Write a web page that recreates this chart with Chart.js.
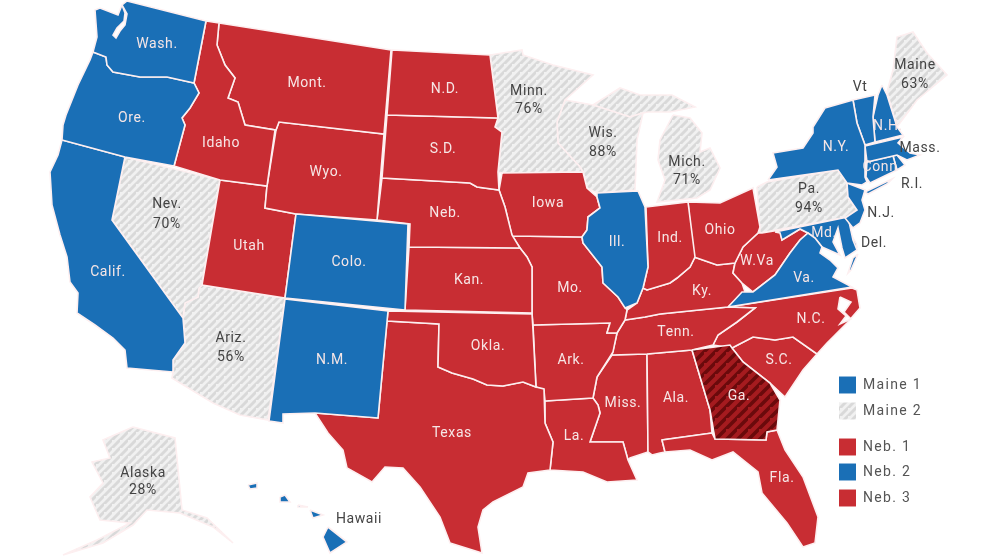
<!DOCTYPE html>
<html>
<head>
<meta charset="utf-8">
<title>Mapa</title>
<script src="https://cdn.jsdelivr.net/npm/chart.js@4"></script>
<style>
  body { margin: 0; background: #fff; }
  canvas { display: block; }
</style>
</head>
<body>
<canvas id="myChart" width="992" height="558"></canvas>
<script>
// state outlines in map units
const wash = [[127,1],[206,21],[194,83],[167,77],[140,77],[113,72],[107,65],[106,57],[93,52],[97,37],[95,10],[100,8],[118,15],[122,5]];
const ore = [[93,52],[106,57],[107,65],[113,72],[140,77],[167,77],[194,83],[199,93],[190,108],[182,118],[185,125],[174,166],[125,157],[62,140],[63,125],[66,115],[78,85],[90,60]];
const calif = [[62,140],[125,157],[112,220],[183,318],[185,343],[173,360],[173,372],[127,368],[125,350],[113,338],[95,325],[77,313],[78,293],[70,282],[67,257],[60,235],[52,205],[50,172],[58,155]];
const nev = [[125,157],[220,180],[202,285],[199,288],[198,297],[185,303],[183,318],[112,220]];
const idaho = [[206,21],[219,23],[217,45],[225,65],[235,78],[228,98],[238,102],[245,125],[275,130],[267,186],[220,180],[174,166],[185,125],[182,118],[190,108],[199,93],[194,83]];
const mont = [[219,23],[391,50],[384,134],[279,122],[276,130],[245,125],[238,102],[228,98],[235,78],[225,65],[217,45]];
const wyo = [[279,122],[384,134],[377,220],[296,214],[265,208],[267,186],[276,130]];
const utah = [[220,180],[267,186],[265,208],[296,214],[285,298],[202,285]];
const ariz = [[199,288],[202,285],[285,298],[268,420],[240,415],[213,403],[172,378],[173,372],[173,360],[185,343],[183,318],[185,303],[198,297]];
const colo = [[296,214],[408,224],[405,310],[285,298]];
const nm = [[285,299],[388,311],[378,418],[315,413],[283,414],[283,423],[269,421]];
const nd = [[392,50],[490,55],[498,118],[387,115]];
const sd = [[387,115],[498,118],[495,127],[502,132],[498,172],[499,190],[477,187],[470,183],[382,178]];
const neb = [[382,178],[470,183],[477,187],[499,190],[505,207],[512,235],[520,248],[409,247],[410,224],[377,220]];
const kan = [[409,247],[520,248],[527,257],[532,267],[532,313],[405,310]];
const okla = [[388,311],[532,314],[533,330],[536,387],[523,382],[503,386],[487,385],[473,379],[452,373],[438,367],[439,324],[387,321]];
const texas = [[387,321],[439,324],[438,367],[452,373],[473,379],[487,385],[503,386],[523,382],[536,387],[544,389],[545,423],[553,442],[550,470],[528,473],[523,487],[493,502],[483,510],[478,527],[482,553],[450,543],[440,517],[420,487],[403,468],[385,467],[372,482],[347,468],[343,450],[328,433],[315,413],[378,418]];
const minn = [[490,55],[522,50],[523,55],[553,65],[593,75],[565,100],[557,122],[558,143],[580,167],[583,172],[502,173],[498,172],[502,132],[495,127],[498,118]];
const iowa = [[502,173],[583,172],[587,188],[597,197],[600,208],[588,217],[587,230],[582,237],[512,236],[505,207],[499,190]];
const mo = [[512,236],[582,237],[583,243],[602,267],[603,283],[618,297],[627,310],[625,320],[617,333],[607,333],[610,323],[533,325],[532,313],[532,267],[527,257],[520,248]];
const ark = [[533,325],[610,323],[607,333],[617,333],[613,352],[597,377],[593,398],[545,401],[544,390],[536,387]];
const la = [[545,401],[593,398],[598,405],[600,413],[590,442],[623,442],[628,460],[637,480],[607,482],[583,472],[550,470],[553,442],[545,423]];
const wis = [[565,100],[593,105],[630,117],[643,113],[637,140],[635,190],[597,193],[587,188],[583,172],[580,167],[558,143],[557,122]];
const michUp = [[593,105],[620,88],[640,95],[672,95],[695,107],[670,112],[648,112],[643,113],[630,117]];
const michLow = [[673,115],[690,118],[702,133],[700,152],[710,148],[720,168],[710,190],[697,198],[657,202],[665,180],[658,160],[660,140]];
const ill = [[597,193],[638,191],[645,207],[648,267],[643,288],[637,303],[625,308],[618,297],[603,283],[602,267],[583,243],[582,237],[587,230],[588,217],[600,208],[597,197]];
const ind = [[646,207],[688,202],[695,257],[690,267],[677,278],[670,283],[647,290],[643,288],[648,267]];
const ohio = [[688,202],[720,203],[753,188],[760,227],[758,233],[743,247],[735,263],[717,265],[697,258],[693,257]];
const wva = [[758,233],[762,233],[780,230],[782,240],[800,229],[808,233],[800,240],[790,253],[775,275],[753,292],[742,283],[733,273],[735,263],[743,247]];
const ky = [[625,320],[627,310],[637,303],[643,288],[647,290],[670,283],[677,278],[690,267],[695,257],[697,258],[717,265],[735,263],[733,273],[742,283],[745,292],[728,307],[660,314],[645,317]];
const va = [[728,307],[742,292],[753,292],[775,275],[790,253],[800,240],[808,233],[815,238],[822,247],[820,253],[830,260],[838,268],[833,277],[852,287]];
const tenn = [[625,320],[645,317],[660,314],[728,307],[755,308],[737,322],[718,335],[713,345],[692,350],[647,354],[612,355],[617,333]];
const nc = [[728,307],[852,288],[857,290],[860,308],[847,323],[827,343],[817,354],[793,337],[775,340],[753,337],[732,348],[713,345],[718,335],[737,322],[755,308]];
const sc = [[732,348],[753,337],[775,340],[793,337],[817,354],[803,370],[785,397],[770,383],[743,362]];
const ga = [[692,350],[730,345],[732,348],[743,362],[770,383],[780,400],[777,430],[767,432],[766,440],[715,439],[710,410]];
const fla = [[662,440],[712,433],[715,439],[766,440],[767,432],[777,430],[785,450],[803,477],[818,517],[815,543],[803,547],[787,523],[762,493],[758,472],[733,452],[712,460],[690,450],[665,452]];
const ala = [[647,354],[692,350],[710,410],[712,433],[662,440],[665,452],[660,453],[652,455],[648,452]];
const miss = [[612,355],[647,354],[648,452],[630,458],[628,460],[623,442],[590,442],[600,413],[598,405],[593,398],[597,377]];
const pa = [[757,187],[767,182],[838,170],[847,183],[848,197],[857,210],[848,217],[760,233]];
const ny = [[768,180],[777,167],[773,153],[803,148],[813,133],[813,127],[825,108],[853,100],[857,123],[865,145],[865,177],[867,182],[862,185],[847,183],[838,170]];
const longIsland = [[865,192],[892,179],[887,184],[868,194]];
const nj = [[847,183],[865,190],[862,200],[865,210],[860,223],[853,228],[845,218],[857,210],[848,197]];
const md = [[775,232],[848,217],[853,240],[857,250],[845,258],[842,248],[838,228],[833,242],[840,255],[822,247],[815,238],[808,233],[800,229],[782,240],[780,233]];
const del = [[843,218],[847,228],[856,243],[857,247],[847,247]];
const vaShore = [[858,254],[853,258],[848,273],[851,270]];
const vt = [[853,100],[875,95],[873,117],[875,142],[865,145],[857,123]];
const nh = [[882,85],[887,95],[897,127],[903,135],[875,142],[873,117],[878,95]];
const mass = [[865,146],[903,137],[898,143],[910,153],[920,155],[907,160],[897,155],[867,162]];
const conn = [[867,162],[893,156],[897,170],[870,183],[866,177]];
const ri = [[893,156],[897,155],[905,165],[897,170]];
const maine = [[887,92],[893,70],[897,37],[913,32],[927,53],[947,75],[917,100],[897,127]];
const alaska = [[133,427],[175,438],[182,510],[207,518],[233,543],[213,527],[180,513],[147,510],[133,525],[103,543],[63,555],[97,540],[130,523],[100,520],[90,497],[103,483],[92,462],[110,458],[103,440]];
const kauai = [[248,485],[257,483],[257,488],[250,489]];
const oahu = [[280,497],[285,495],[290,502],[280,502]];
const molokai = [[298,505],[308,507],[298,507]];
const maui = [[310,510],[323,515],[313,518]];
const bigIsland = [[328,527],[347,542],[330,553],[323,537]];
// water drawn over the land
const pugetSound = [[122,5],[125,13],[124,21],[117,28],[113,35],[116,38],[120,31],[125,25],[127,14]];
const pamlico = [[840,297],[851,302],[844,312],[851,319],[840,324],[846,316],[838,309]];

const waterAreas = [pugetSound, pamlico];
const blueStates = [wash, ore, calif, colo, nm, ill, va, ny, longIsland, nj, md, del, vaShore, vt, nh, mass, conn, ri, kauai, oahu, molokai, maui, bigIsland];
const redStates = [idaho, mont, wyo, utah, nd, sd, neb, kan, okla, texas, iowa, mo, ark, la, ind, ohio, wva, ky, tenn, nc, sc, fla, ala, miss];
const grayStates = [nev, ariz, minn, wis, michUp, michLow, pa, maine, alaska];
const darkStates = [ga];

const labelsLight = [
  ["Wash.",157,44],["Ore.",132,118],["Calif.",108,272],["Idaho",221,143],["Mont.",307,83],["Wyo.",326,172],
  ["Utah",249,246],["Colo.",349,262],["N.M.",332,360],["N.D.",445,89],["S.D.",443,149],["Neb.",445,213],
  ["Kan.",469,280],["Okla.",488,346],["Texas",452,433],["Iowa",548,203],["Mo.",570,288],["Ark.",571,360],
  ["La.",574,436],["Ill.",617,242],["Miss.",623,403],["Ala.",676,398],["Ind.",670,238],["Ohio",720,230],
  ["Ky.",702,291],["Tenn.",676,332],["W.Va",757,261],["Va.",804,278],["N.C.",811,319],["S.C.",779,360],
  ["Ga.",739,396],["Fla.",782,478],["N.Y.",836,147],["N.H.",888,126],["Conn",880,167],["Md.",824,233]
];
const labelsDark = [
  ["Nev.",167,204],["70%",167,224],["Ariz.",231,338],["56%",231,357],["Minn.",529,91],["76%",529,109],
  ["Wis.",603,133],["88%",603,152],["Mich.",687,162],["71%",687,180],["Pa.",809,189],["94%",809,208],
  ["Maine",915,65],["63%",915,84],["Alaska",143,473],["28%",143,490],["Hawaii",359,519],["Vt",860,87],
  ["Mass.",920,148],["R.I.",912,184],["N.J.",881,213],["Del.",874,243]
];

const legendNames = ["Maine 1", "Maine 2", "Neb. 1", "Neb. 2", "Neb. 3"];
const legendRows = [385, 411, 447, 472, 498];

const blue = "#1a6fb6";
const red = "#c82d33";

function stripes(back, line, size, width) {
  const c = document.createElement("canvas");
  c.width = size;
  c.height = size;
  const x = c.getContext("2d");
  x.fillStyle = back;
  x.fillRect(0, 0, size, size);
  x.strokeStyle = line;
  x.lineWidth = width;
  [0, 1, 2].forEach(function (k) {
    x.beginPath();
    x.moveTo(0, k * size);
    x.lineTo(k * size, 0);
    x.stroke();
  });
  return x.createPattern(c, "repeat");
}

const grayHatch = stripes("#f1f1f1", "#d9d9d9", 8, 3);
const darkHatch = stripes("#a51b1f", "#6a0a0c", 11, 3.5);

function polygon(points, color) {
  const closed = points.concat([points[0]]);
  return {
    data: closed.map(function (p) { return { x: p[0], y: p[1] }; }),
    showLine: true,
    tension: 0,
    pointRadius: 0,
    fill: "shape",
    backgroundColor: color,
    borderColor: "#fdeff0",
    borderWidth: 1.6,
  };
}

const datasets = [];
// earlier datasets get drawn on top
waterAreas.forEach(function (s) { datasets.push(polygon(s, "#ffffff")); });
darkStates.forEach(function (s) { datasets.push(polygon(s, darkHatch)); });
blueStates.forEach(function (s) { datasets.push(polygon(s, blue)); });
redStates.forEach(function (s) { datasets.push(polygon(s, red)); });
grayStates.forEach(function (s) { datasets.push(polygon(s, grayHatch)); });

datasets.unshift({
  data: legendRows.map(function (y) { return { x: 847.5, y: y }; }),
  pointStyle: "rect",
  pointRadius: 12,
  pointHoverRadius: 12,
  borderWidth: 0,
  showLine: false,
  backgroundColor: [blue, grayHatch, red, blue, red],
});

const textPlugin = {
  id: "mapText",
  afterDatasetsDraw: function (chart) {
    const ctx = chart.ctx;
    const sx = chart.scales.x;
    const sy = chart.scales.y;
    ctx.save();
    ctx.font = "14px Roboto, sans-serif";
    ctx.letterSpacing = "0.6px";
    ctx.textAlign = "center";
    ctx.textBaseline = "middle";
    ctx.fillStyle = "#f6e6e6";
    labelsLight.forEach(function (l) {
      ctx.fillText(l[0], sx.getPixelForValue(l[1]), sy.getPixelForValue(l[2]));
    });
    ctx.fillStyle = "#444444";
    labelsDark.forEach(function (l) {
      ctx.fillText(l[0], sx.getPixelForValue(l[1]), sy.getPixelForValue(l[2]));
    });
    ctx.textAlign = "left";
    ctx.fillStyle = "#555555";
    ctx.letterSpacing = "1.3px";
    legendNames.forEach(function (name, i) {
      ctx.fillText(name, sx.getPixelForValue(863), sy.getPixelForValue(legendRows[i]));
    });
    ctx.restore();
  },
};

const ctx = document.getElementById("myChart").getContext("2d");
new Chart(ctx, {
  type: "scatter",
  data: { datasets: datasets },
  options: {
    responsive: false,
    animation: false,
    layout: { padding: 0, autoPadding: false },
    plugins: { legend: { display: false }, tooltip: { enabled: false } },
    scales: {
      x: { type: "linear", min: 0, max: 992, display: false },
      y: { type: "linear", min: 0, max: 558, reverse: true, display: false },
    },
  },
  plugins: [textPlugin],
});
</script>
</body>
</html>
